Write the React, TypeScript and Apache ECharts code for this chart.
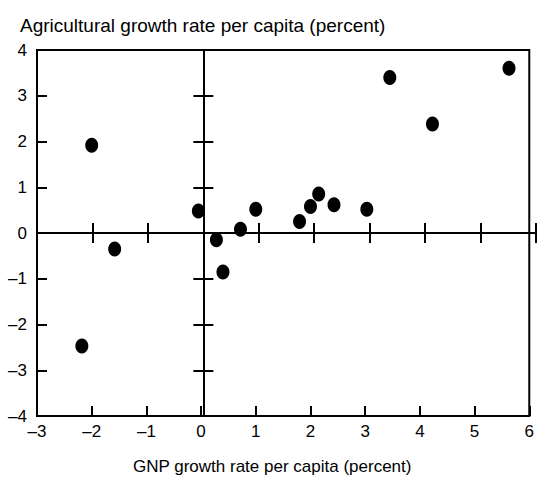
import React, { useEffect, useRef } from "react";
import * as echarts from "echarts";

// GNP growth rate per capita (percent) vs agricultural growth rate per capita (percent)
const gnpGrowth = [-2.0, -1.58, -2.18, -0.05, 0.28, 0.4, 0.72, 1.0, 1.8, 2.0, 2.15, 2.43, 3.03, 3.45, 4.23, 5.63];
const agGrowth = [1.92, -0.35, -2.47, 0.48, -0.15, -0.85, 0.08, 0.52, 0.25, 0.58, 0.85, 0.62, 0.52, 3.4, 2.38, 3.6];

const xMin = -3;
const xMax = 6;
const yMin = -4;
const yMax = 4;
const tickStep = 1;

const yTitle = "Agricultural growth rate per capita (percent)";
const xTitle = "GNP growth rate per capita (percent)";

const FONT = "Liberation Sans, Arial, Helvetica, sans-serif";

const fmt = (v: number) => (v < 0 ? "\u2013" + Math.abs(v) : String(v));

export default function App() {
  const ref = useRef<HTMLDivElement>(null);

  useEffect(() => {
    if (!ref.current) return;
    const chart = echarts.init(ref.current, undefined, { renderer: "svg" });

    const gridRect = { left: 37, right: 1, top: 50, bottom: 63 };
    const lineStyle = { color: "#000", width: 2 };

    const mkX = (gridIndex: number, extra: any) => ({
      type: "value",
      gridIndex,
      min: xMin,
      max: xMax,
      interval: tickStep,
      splitLine: { show: false },
      ...extra,
    });
    const mkY = (gridIndex: number, extra: any) => ({
      type: "value",
      gridIndex,
      min: yMin,
      max: yMax,
      interval: tickStep,
      splitLine: { show: false },
      ...extra,
    });

    const option: any = {
      animation: false,
      backgroundColor: "#fff",
      title: [
        {
          text: yTitle,
          left: 15,
          top: 11,
          textStyle: { fontFamily: FONT, fontSize: 19, fontWeight: "normal", color: "#000" },
        },
        {
          text: xTitle,
          left: 128,
          top: 453,
          textStyle: { fontFamily: FONT, fontSize: 17, fontWeight: "normal", color: "#000" },
        },
      ],
      grid: [
        { ...gridRect, show: true, borderColor: "#000", borderWidth: 2, backgroundColor: "transparent" },
        { ...gridRect, show: false },
        { ...gridRect, show: false },
      ],
      xAxis: [
        mkX(0, {
          position: "bottom",
          axisLine: { show: false, onZero: false },
          axisTick: { show: true, inside: true, length: 10, lineStyle },
          axisLabel: { show: true, formatter: fmt, margin: 7, fontFamily: FONT, fontSize: 17, color: "#000" },
        }),
        mkX(1, {
          axisLine: { show: true, onZero: true, lineStyle },
          axisTick: { show: true, inside: true, length: 10, lineStyle },
          axisLabel: { show: false },
        }),
        mkX(2, {
          axisLine: { show: true, onZero: true, lineStyle },
          axisTick: { show: true, inside: false, length: 10, lineStyle },
          axisLabel: { show: false },
        }),
      ],
      yAxis: [
        mkY(0, {
          position: "left",
          axisLine: { show: false, onZero: false },
          axisTick: { show: true, inside: true, length: 10, lineStyle },
          axisLabel: { show: true, formatter: fmt, margin: 10, fontFamily: FONT, fontSize: 17, color: "#000" },
        }),
        mkY(1, {
          axisLine: { show: true, onZero: true, lineStyle },
          axisTick: { show: true, inside: true, length: 10, lineStyle },
          axisLabel: { show: false },
        }),
        mkY(2, {
          axisLine: { show: true, onZero: true, lineStyle },
          axisTick: { show: true, inside: false, length: 10, lineStyle },
          axisLabel: { show: false },
        }),
      ],
      series: [
        {
          type: "scatter",
          xAxisIndex: 0,
          yAxisIndex: 0,
          symbol: "circle",
          symbolSize: [13, 15],
          itemStyle: { color: "#000", opacity: 1 },
          data: gnpGrowth.map((x, i) => [x, agGrowth[i]]),
          z: 10,
        },
      ],
    };

    chart.setOption(option);
    return () => chart.dispose();
  }, []);

  return <div ref={ref} style={{ width: 537, height: 479, position: "absolute", left: 0, top: 0 }} />;
}
